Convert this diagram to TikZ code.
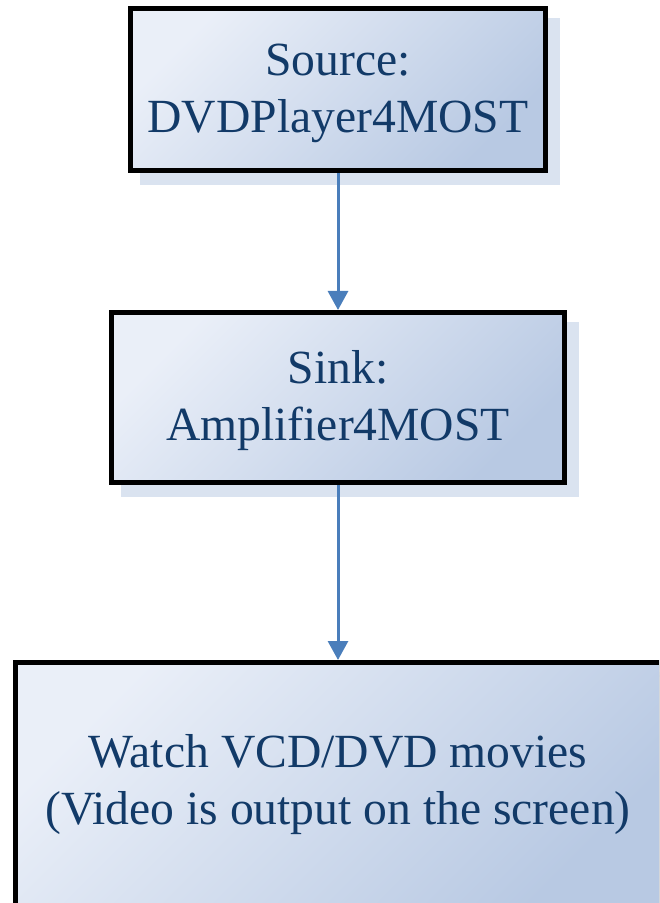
\documentclass[tikz,border=0pt]{standalone}
\usepackage{fontspec}
\setmainfont{Liberation Serif}
\usepackage{tikz}
\usepackage{xcolor}
\usetikzlibrary{arrows.meta,shadows}

\definecolor{mosttext}{RGB}{18,58,104}
\definecolor{mostlight}{RGB}{234,239,248}
\definecolor{mostdark}{RGB}{184,201,227}
\definecolor{mostshadow}{RGB}{218,227,240}
\definecolor{mostarrow}{RGB}{74,126,187}

% invisible strut that pushes the first line of a box down a little
\newcommand{\firstline}[1]{\rule{0pt}{#1}}

\begin{document}
\begin{tikzpicture}[x=0.5pt,y=-0.5pt,
    mostbox/.style={rectangle, draw=black, line width=2.5pt, inner sep=0pt,
      top color=mostlight, bottom color=mostdark, shading angle=45,
      drop shadow={shadow xshift=6pt, shadow yshift=-6pt, fill=mostshadow,
        draw=mostshadow, line width=2.5pt, opacity=1},
      text=mosttext, align=center, font=\fontsize{23.8}{28.5}\selectfont},
    flowarrow/.style={draw=mostarrow, line width=1.5pt,
      -{Triangle[width=10pt,length=9.5pt]}}]

  % page is 659 x 903 px, one px is half a point
  \useasboundingbox (0,0) rectangle (659,903);
  \clip (0,0) rectangle (659,903);

  \pgfmathsetmacro{\mid}{338} % common axis of the boxes

  % the three MOST blocks
  \node[mostbox, minimum width=207.75pt, minimum height=80.75pt] (source)
    at (\mid,89.75) {\firstline{19.3pt}Source:\\DVDPlayer4MOST};
  \node[mostbox, minimum width=226.25pt, minimum height=85pt] (sink)
    at (\mid,397.5) {\firstline{19.5pt}Sink:\\Amplifier4MOST};
  \node[mostbox, minimum width=323pt, minimum height=121.75pt] (watch)
    at (\mid,784.25) {\firstline{17.3pt}Watch VCD/DVD movies\\(Video is output on the screen)};

  % connectors
  \draw[flowarrow] (source.south) -- (sink.north);
  \draw[flowarrow] (sink.south) -- (watch.north);
\end{tikzpicture}
\end{document}
